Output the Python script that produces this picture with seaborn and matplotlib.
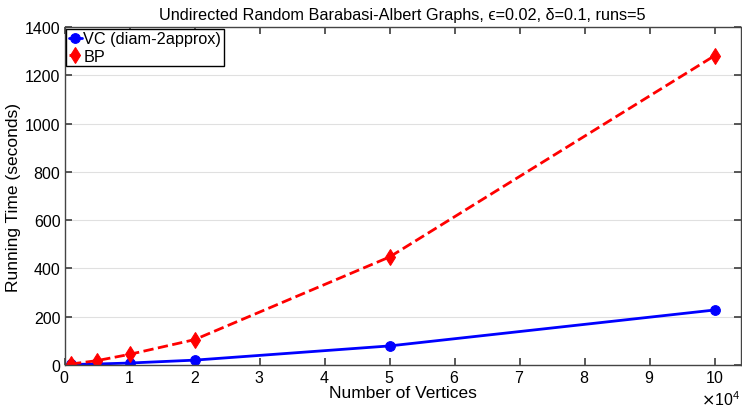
import matplotlib
matplotlib.use("Agg")
import matplotlib.pyplot as plt
import matplotlib.ticker as mticker
import seaborn as sns
import pandas as pd

vertices = [1000, 5000, 10000, 20000, 50000, 100000]
vc_times = [1, 3, 7, 19, 78, 227]
bp_times = [3, 17, 43, 104, 447, 1282]
series_names = ["VC (diam-2approx)", "BP"]

sns.set_theme(style="ticks")
plt.rcParams['font.family'] = ['Liberation Sans', 'DejaVu Sans']
plt.rcParams['text.color'] = 'black'
plt.rcParams['axes.labelcolor'] = 'black'
plt.rcParams['xtick.labelcolor'] = 'black'
plt.rcParams['ytick.labelcolor'] = 'black'

df = pd.concat([
    pd.DataFrame({"Vertices": vertices, "Time": vc_times, "Method": series_names[0]}),
    pd.DataFrame({"Vertices": vertices, "Time": bp_times, "Method": series_names[1]}),
])

fig = plt.figure(figsize=(7.42, 4.10), dpi=100)
ax = fig.add_axes([0.087, 0.108, 0.911, 0.823])

sns.lineplot(data=df[df.Method == series_names[0]], x="Vertices", y="Time", ax=ax,
             color="#0000ff", linewidth=2, marker="o", markersize=7,
             markeredgecolor="#0000ff", label=series_names[0])
sns.lineplot(data=df[df.Method == series_names[1]], x="Vertices", y="Time", ax=ax,
             color="#ff0000", linewidth=2, linestyle="--", marker="d", markersize=8.5,
             markeredgecolor="#ff0000", label=series_names[1])

ax.set_xlim(0, 104000)
ax.set_ylim(0, 1400)
ax.set_xticks([i * 10000 for i in range(11)])
ax.set_yticks(range(0, 1401, 200))


class FixedOrderFormatter(mticker.ScalarFormatter):
    def _set_order_of_magnitude(self):
        self.orderOfMagnitude = 4


fmt = FixedOrderFormatter(useMathText=True)
fmt.set_scientific(True)
ax.xaxis.set_major_formatter(fmt)
ax.xaxis.get_offset_text().set_fontsize(11.5)
ax.xaxis.get_offset_text().set_color("black")

ax.yaxis.grid(True, color="#e0e0e0", linewidth=0.8)
ax.set_axisbelow(True)
ax.tick_params(direction="in", top=True, right=True, labelsize=11.5, length=5,
               color="#444444", labelcolor="black", pad=3)
for s in ax.spines.values():
    s.set_color("#444444")
    s.set_linewidth(1)

ax.set_xlabel("Number of Vertices", fontsize=12.5, labelpad=0, color="black")
ax.set_ylabel("Running Time (seconds)", fontsize=12.5, labelpad=3, color="black")
ax.set_title("Undirected Random Barabasi-Albert Graphs, \u03f5=0.02, \u03b4=0.1, runs=5",
             fontsize=11.7, pad=6, color="black")

leg = ax.legend(loc="upper left", fontsize=11.7, frameon=True, fancybox=False,
                edgecolor="black", borderpad=0.15, handlelength=0.8,
                handletextpad=0.1, borderaxespad=0.1, labelspacing=0.15)
leg.get_frame().set_linewidth(1)
leg.get_frame().set_alpha(1)
for t in leg.get_texts():
    t.set_color("black")

fig.savefig("out.png", dpi=100)
